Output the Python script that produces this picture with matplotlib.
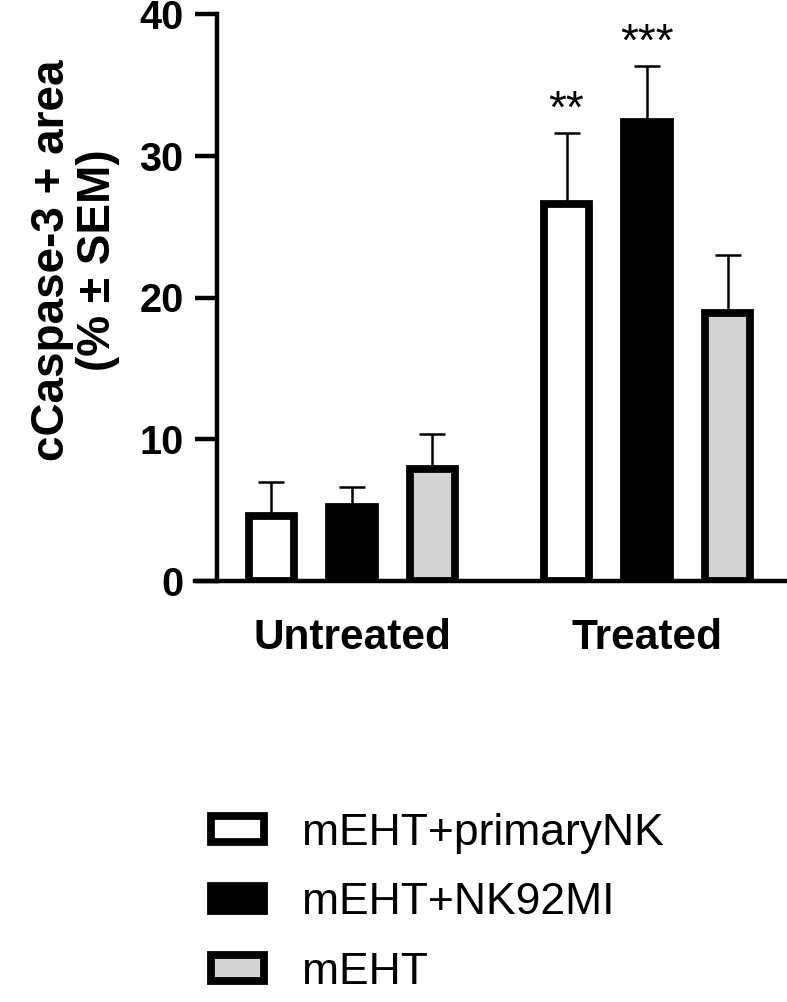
import matplotlib
matplotlib.use("Agg")
import matplotlib.pyplot as plt
from matplotlib.patches import Patch
import numpy as np

groups = ["Untreated", "Treated"]
series = ["mEHT+primaryNK", "mEHT+NK92MI", "mEHT"]
means = {
    "mEHT+primaryNK": [4.6, 26.6],
    "mEHT+NK92MI": [5.2, 32.4],
    "mEHT": [7.9, 18.9],
}
sems = {
    "mEHT+primaryNK": [2.35, 5.0],
    "mEHT+NK92MI": [1.4, 3.9],
    "mEHT": [2.5, 4.1],
}
fills = {"mEHT+primaryNK": "white", "mEHT+NK92MI": "black", "mEHT": "#d3d3d3"}
stars = {("mEHT+primaryNK", 1): "**", ("mEHT+NK92MI", 1): "***"}
yticks = [0, 10, 20, 30, 40]

plt.rcParams['font.family'] = ['Liberation Sans', 'DejaVu Sans']

fig = plt.figure(figsize=(7.87, 10.02), dpi=100)
ax = fig.add_axes([217/787, 1 - 581/1002, 1 - 217/787, (581 - 14)/1002])

group_start = [0.0, 3.665]
width = 0.56
lw_edge = 5.6
for gi, g in enumerate(groups):
    for si, s in enumerate(series):
        x = group_start[gi] + si
        m = means[s][gi]
        e = sems[s][gi]
        ax.bar(x, m, width=width, color=fills[s], edgecolor="black",
               linewidth=lw_edge, zorder=3)
        ax.errorbar(x, m, yerr=[[0], [e]], fmt="none", ecolor="black",
                    elinewidth=1.8, capsize=9.5, capthick=1.8, zorder=2)
        if (s, gi) in stars:
            ax.text(x, m + e + 1.6, stars[(s, gi)], ha="center", va="center",
                    fontsize=33, zorder=4)

ax.set_xlim(-0.677, 6.404)
ax.set_ylim(0, 40)
ax.set_yticks(yticks)
ax.set_yticklabels([str(t) for t in yticks], fontsize=28.5, fontweight="bold")
ax.tick_params(axis="y", length=16, width=3.2, pad=8)
ax.set_xticks([])
for sp in ["top", "right"]:
    ax.spines[sp].set_visible(False)
for sp in ["left", "bottom"]:
    ax.spines[sp].set_linewidth(3.2)
ax.spines["bottom"].set_bounds(-0.677 - 22/80.5, 6.404)
ax.spines["bottom"].set_clip_on(False)

for gi, g in enumerate(groups):
    xc = group_start[gi] + 1
    ax.text(xc, -4.0, g, ha="center", va="center", fontsize=30.5,
            fontweight="bold")

ax.set_ylabel("cCaspase-3 + area\n(% ± SEM)", fontsize=33, fontweight="bold",
              linespacing=1.05)
ax.yaxis.set_label_coords(-0.17, 0.566)

handles = [Patch(facecolor=fills[s], edgecolor="black", linewidth=lw_edge, label=s)
           for s in series]
fig.legend(handles=handles, loc="upper left",
           bbox_to_anchor=(193/787, 1 - 795/1002), frameon=False,
           fontsize=32, handlelength=1.2, handleheight=0.5,
           labelspacing=0.64, handletextpad=0.85, borderaxespad=0)

fig.savefig("out.png", dpi=100)
